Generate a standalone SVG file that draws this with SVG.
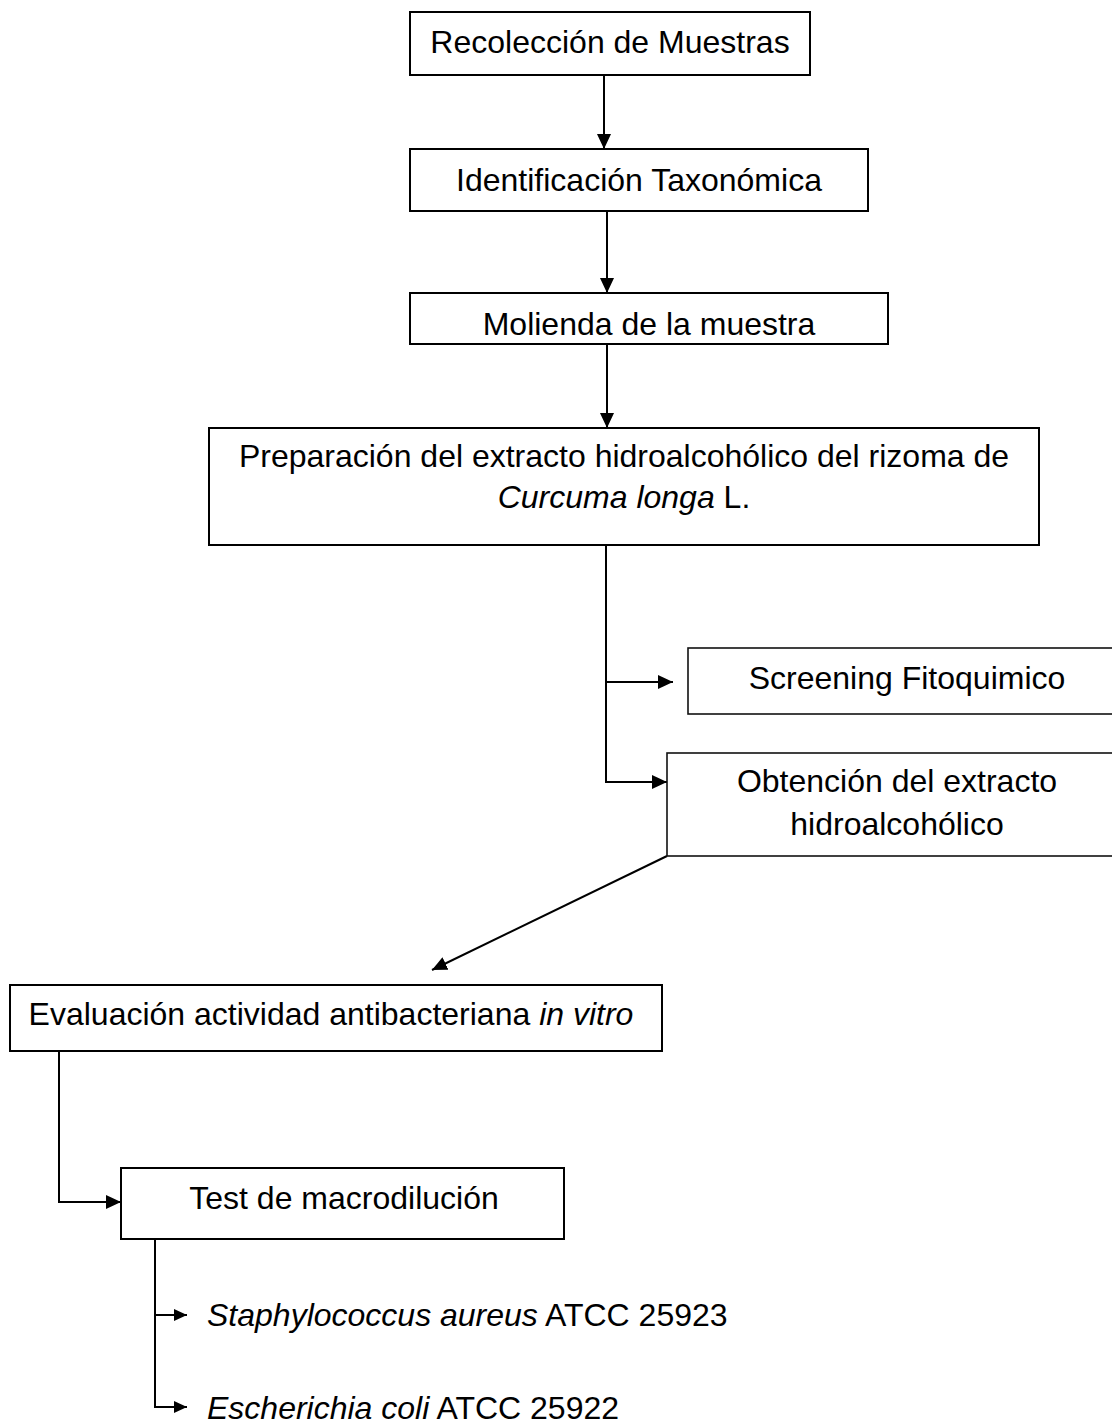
<svg xmlns="http://www.w3.org/2000/svg" width="1112" height="1426" viewBox="0 0 1112 1426">
<style>
.box{fill:#fff;stroke:#000;stroke-width:2}
.box2{fill:#fff;stroke:#111;stroke-width:1.6}
text{font-family:"Liberation Sans",Arial,sans-serif;font-size:32px;fill:#000}
.c{text-anchor:middle}
.i{font-style:italic}
.ln{fill:none;stroke:#000;stroke-width:2}
</style>
<defs>
<marker id="ah" markerUnits="userSpaceOnUse" markerWidth="16" markerHeight="14" refX="15" refY="7" orient="auto">
<path d="M0,0 L15,7 L0,14 z" fill="#000"/>
</marker>
<marker id="ahs" markerUnits="userSpaceOnUse" markerWidth="14" markerHeight="12" refX="13" refY="6" orient="auto">
<path d="M0,0 L13,6 L0,12 z" fill="#000"/>
</marker>
</defs>
<rect width="1112" height="1426" fill="#fff"/>
<g id="connectors">
<line class="ln" x1="604" y1="76" x2="604" y2="149" marker-end="url(#ah)"/>
<line class="ln" x1="607" y1="212" x2="607" y2="293" marker-end="url(#ah)"/>
<line class="ln" x1="607" y1="345" x2="607" y2="428" marker-end="url(#ah)"/>
<polyline class="ln" points="606,546 606,782 667,782" marker-end="url(#ah)"/>
<line class="ln" x1="606" y1="682" x2="673" y2="682" marker-end="url(#ah)"/>
<line class="ln" x1="667" y1="856" x2="432" y2="970" marker-end="url(#ah)"/>
<polyline class="ln" points="59,1052 59,1202 121,1202" marker-end="url(#ah)"/>
<polyline class="ln" points="155,1240 155,1407 187,1407" marker-end="url(#ahs)"/>
<line class="ln" x1="155" y1="1315" x2="187" y2="1315" marker-end="url(#ahs)"/>
</g>
<g id="n1">
<rect class="box" x="410" y="12" width="400" height="63"/>
<text class="c" x="610" y="53">Recolección de Muestras</text>
</g>
<g id="n2">
<rect class="box" x="410" y="149" width="458" height="62"/>
<text class="c" x="639" y="191">Identificación Taxonómica</text>
</g>
<g id="n3">
<rect class="box" x="410" y="293" width="478" height="51"/>
<text class="c" x="649" y="335">Molienda de la muestra</text>
</g>
<g id="n4">
<rect class="box" x="209" y="428" width="830" height="117"/>
<text class="c" x="624" y="467">Preparación del extracto hidroalcohólico del rizoma de</text>
<text class="c" x="624" y="508"><tspan class="i">Curcuma longa</tspan> L.</text>
</g>
<g id="n5">
<rect class="box2" x="688" y="648" width="440" height="66"/>
<text class="c" x="907" y="689">Screening Fitoquimico</text>
</g>
<g id="n6">
<rect class="box2" x="667" y="753" width="460" height="103"/>
<text class="c" x="897" y="792">Obtención del extracto</text>
<text class="c" x="897" y="835">hidroalcohólico</text>
</g>
<g id="n7">
<rect class="box" x="10" y="985" width="652" height="66"/>
<text class="c" x="331" y="1025">Evaluación actividad antibacteriana <tspan class="i">in vitro</tspan></text>
</g>
<g id="n8">
<rect class="box" x="121" y="1168" width="443" height="71"/>
<text class="c" x="344" y="1209">Test de macrodilución</text>
</g>
<g id="n9">
<text x="207" y="1326"><tspan class="i">Staphylococcus aureus</tspan> ATCC 25923</text>
</g>
<g id="n10">
<text x="207" y="1419"><tspan class="i">Escherichia coli</tspan> ATCC 25922</text>
</g>
</svg>
